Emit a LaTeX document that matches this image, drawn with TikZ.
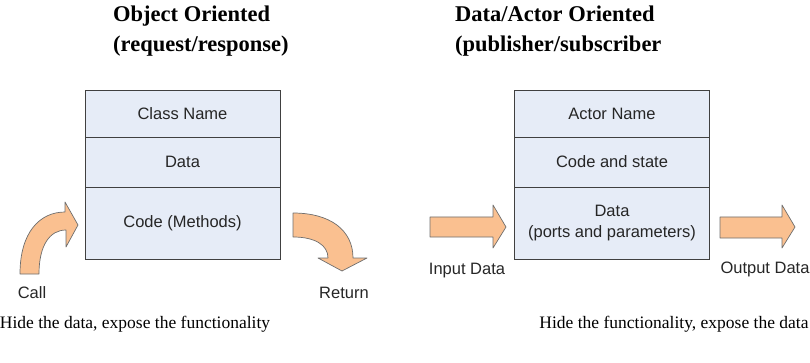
\documentclass[tikz,border=0pt]{standalone}
\usepackage{fontspec}
\setmainfont{Liberation Serif}
\newfontfamily\arialfont{Liberation Sans}
\usepackage{tikz}
\usetikzlibrary{positioning}
\definecolor{boxfill}{RGB}{230,236,247}
\definecolor{boxline}{RGB}{64,64,64}
\definecolor{arrowfill}{RGB}{250,192,144}
\definecolor{arrowline}{RGB}{110,110,110}
\newcommand{\labelfont}{\arialfont\fontsize{16.5}{21}\selectfont}
\newcommand{\titlefont}{\bfseries\fontsize{22.5}{30}\selectfont}
\newcommand{\bottomfont}{\fontsize{17.5}{21}\selectfont}

\begin{document}
\begin{tikzpicture}
          [x=1pt,y=-1pt,
            every node/.style={font=\labelfont,text=black!85},
            cell/.style={rectangle,draw=boxline,fill=boxfill,line width=0.9pt,inner sep=0pt,outer sep=0pt,minimum width=195pt,align=center},
            word/.style={draw=none,fill=none},
            blockarrow/.style={draw=arrowline,fill=arrowfill,line width=0.7pt,line join=round},
            heading/.style={font=\titlefont,text=black,align=left,anchor=north west,inner sep=0pt},
            summary/.style={font=\bottomfont,text=black,inner sep=0pt},
          ]
          \useasboundingbox (0,0) rectangle (810,363);

          % object oriented
          \node[heading] (otitle) at (113,6) {Object Oriented\\(request/response)};
          \node[cell,minimum height=47pt] (cname) at (182.5,113.5) {Class Name};
          \node[cell,minimum height=50pt,below=0pt of cname] (cdata) {Data};
          \node[cell,minimum height=72pt,below=0pt of cdata] (ccode) {Code (Methods)};
          \draw[blockarrow] (20,274) .. controls (20,232) and (40,212) .. (65,212) -- (65,202)
            -- (78,225) -- (66,247) -- (66,230) .. controls (50,230) and (39,245) .. (39,274) -- cycle;
          \draw[blockarrow] (293,213) .. controls (330,213) and (353,230) .. (353,258) -- (367,258)
            -- (342,271) -- (318,258) -- (328,258) .. controls (328,245) and (315,237) .. (293,237) -- cycle;
          \node[word] (call) at (32,293) {Call};
          \node[word] (return) at (344,293) {Return};
          \node[summary] (hidedata) at (135,324) {Hide the data, expose the functionality};

          % actor oriented
          \node[heading] (atitle) at (455,6) {Data/Actor Oriented\\(publisher/subscriber};
          \node[cell,minimum height=47pt] (aname) at (612,113.5) {Actor Name};
          \node[cell,minimum height=50pt,below=0pt of aname] (astate) {Code and state};
          \node[cell,minimum height=72pt,below=0pt of astate] (aports) {Data\\(ports and parameters)};
          \draw[blockarrow] (430,217) -- (493,217) -- (493,205) -- (506,227) -- (493,248) -- (493,237) -- (430,237) -- cycle;
          \draw[blockarrow] (720,217) -- (782,217) -- (782,205) -- (795,227) -- (782,248) -- (782,238) -- (720,238) -- cycle;
          \node[word] (indata) at (467,271) {Input Data};
          \node[word] (outdata) at (765,269) {Output Data};
          \node[summary] (hidefunc) at (674,324) {Hide the functionality, expose the data};
        \end{tikzpicture}
\end{document}
